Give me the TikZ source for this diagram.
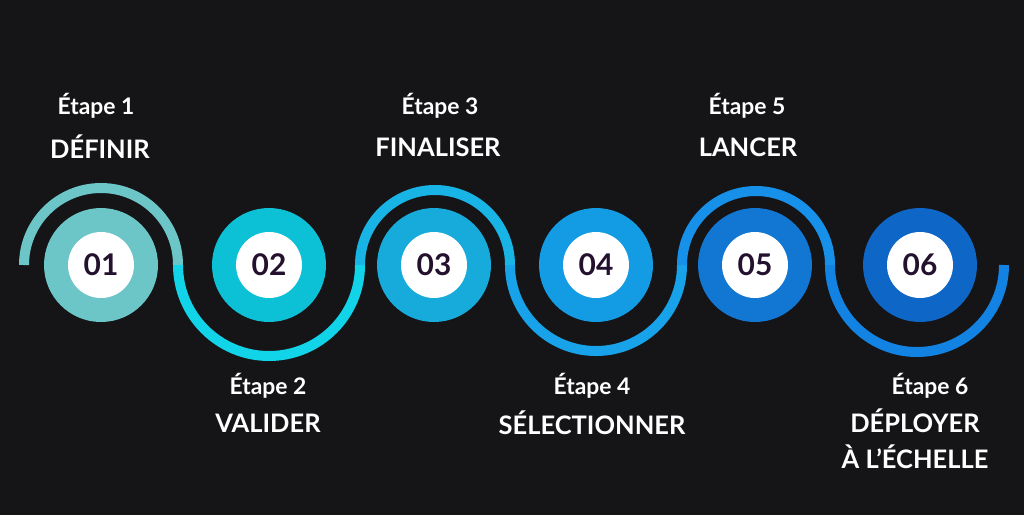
\documentclass[tikz,border=0pt]{standalone}
\usepackage{fontspec}
\setmainfont{Lato}
\usepackage{tikz}
\definecolor{bg}{HTML}{151518}
\definecolor{numc}{HTML}{24112E}
\definecolor{cA}{HTML}{6CC5C7}
\definecolor{cB}{HTML}{0CC0D6}
\definecolor{cC}{HTML}{16ABDB}
\definecolor{cD}{HTML}{139BE3}
\definecolor{cE}{HTML}{1177D2}
\definecolor{cF}{HTML}{0E66C6}
\definecolor{wA}{HTML}{6CC5C7}
\definecolor{wB}{HTML}{12D4E8}
\definecolor{wC}{HTML}{19B4E6}
\definecolor{wD}{HTML}{18A2EA}
\definecolor{wE}{HTML}{1690E8}
\definecolor{wF}{HTML}{1283E2}
\tikzset{
  stage/.style={circle, minimum size=2.28cm, inner sep=0pt},
  num/.style={circle, fill=white, minimum size=1.32cm, inner sep=0pt, text=numc, font=\bfseries\fontsize{17}{17}\selectfont},
  tag/.style={text=white, font=\bfseries\fontsize{13}{14}\selectfont},
  title/.style={text=white, font=\bfseries\fontsize{14.5}{16}\selectfont, align=center},
  wave/.style={line width=0.2cm}
}
\begin{document}
\begin{tikzpicture}[x=0.02cm, y=-0.02cm]
  \fill[bg] (0,0) rectangle (1024,515);
  \useasboundingbox (0,0) rectangle (1024,515);
  % wave
  \draw[wave, wA] (24,265) arc[start angle=180, end angle=0, radius=77*0.02cm];
  \draw[wave, wB] (178,265) arc[start angle=180, end angle=360, radius=91*0.02cm];
  \draw[wave, wC] (360,265) arc[start angle=180, end angle=0, radius=75*0.02cm];
  \draw[wave, wD] (510,265) arc[start angle=180, end angle=360, radius=86*0.02cm];
  \draw[wave, wE] (682,265) arc[start angle=180, end angle=0, radius=74*0.02cm];
  \draw[wave, wF] (830,265) arc[start angle=180, end angle=360, radius=87*0.02cm];
  % stages
  \foreach \x/\c/\n in {101/cA/01, 269/cB/02, 434/cC/03, 596/cD/04, 755/cE/05, 920/cF/06} {
    \node[stage, fill=\c] (s\n) at (\x,265) {};
    \node[num] (n\n) at (s\n) {\n};
  }
  % labels
  \node[tag] (e1) at (96,106) {Étape 1};
  \node[title] (t1) at (100,147) {DÉFINIR};
  \node[tag] (e3) at (440,106) {Étape 3};
  \node[title] (t3) at (438,147) {FINALISER};
  \node[tag] (e5) at (747,106) {Étape 5};
  \node[title] (t5) at (748,147) {LANCER};
  \node[tag] (e2) at (268,386) {Étape 2};
  \node[title] (t2) at (268,423) {VALIDER};
  \node[tag] (e4) at (592,386) {Étape 4};
  \node[title] (t4) at (592,423) {SÉLECTIONNER};
  \node[tag] (e6) at (930,386) {Étape 6};
  \node[title, anchor=north] (t6) at (915,403) {DÉPLOYER\\[4pt]À L’ÉCHELLE};
\end{tikzpicture}
\end{document}
